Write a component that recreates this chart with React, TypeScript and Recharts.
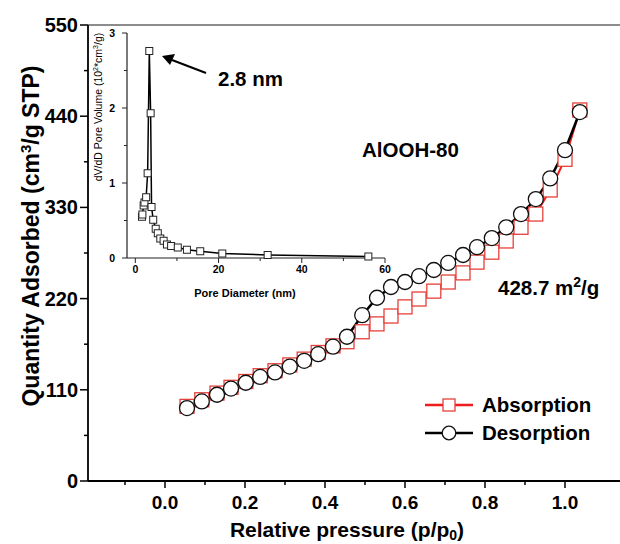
import { ComposedChart, Line, XAxis, YAxis, ReferenceLine } from 'recharts'

// N2 isotherm, main plot
const pressure = [0.055, 0.092, 0.13, 0.165, 0.202, 0.238, 0.275, 0.312, 0.348, 0.383, 0.42, 0.455, 0.493, 0.53, 0.565, 0.6, 0.635, 0.672, 0.708, 0.745, 0.78, 0.817, 0.853, 0.89, 0.927, 0.963, 1.0, 1.037]
const adsorbed = [90, 98, 106, 113, 120, 127, 133, 140, 147, 155, 163, 168, 180, 189.5, 199, 210, 219.5, 229, 240, 251, 264, 276, 289.5, 306, 322, 351, 388, 447.5]
const desorbed = [88, 96, 104, 111.5, 118.5, 125.5, 131, 138, 145, 153, 162, 174, 200, 221, 234, 240, 247, 254.5, 263, 272.6, 282, 293, 306, 322, 340, 365, 399, 445]
const mainXTicks = [-0.1, 0, 0.1, 0.2, 0.3, 0.4, 0.5, 0.6, 0.7, 0.8, 0.9, 1.0]
const mainYTicks = [0, 55, 110, 165, 220, 275, 330, 385, 440, 495, 550]

// pore size distribution, inset
const poreDiameter = [1.6, 1.7, 2.0, 2.2, 2.6, 2.96, 3.36, 3.68, 3.9, 4.3, 4.9, 5.4, 6.0, 6.8, 7.6, 8.6, 10.2, 12.4, 15.6, 20.9, 31.8, 56]
const poreVolume = [0.55, 0.58, 0.7, 0.74, 0.81, 1.13, 2.76, 1.93, 0.68, 0.51, 0.39, 0.33, 0.26, 0.23, 0.18, 0.16, 0.14, 0.11, 0.09, 0.06, 0.04, 0.02]
const insetXTicks = [0, 10, 20, 30, 40, 50, 60]
const insetYTicks = [0, 0.5, 1, 1.5, 2, 2.5, 3]

const isoData = pressure.map((p, i) => ({ p, ads: adsorbed[i], des: desorbed[i] }))
const poreData = poreDiameter.map((d, i) => ({ d, v: poreVolume[i] }))

const FONT = '"Liberation Sans", Arial, sans-serif'
const RED = '#ee1c1c'

const MainXTick = (props: any) => {
  const { x, y, payload } = props
  const major = Math.round(payload.value * 10) % 2 === 0
  return (
    <g>
      <line x1={x} x2={x} y1={y} y2={y + (major ? 7 : 4)} stroke="#000" strokeWidth={1.5} />
      {major && (
        <text x={x} y={y + 21} dy="0.35em" textAnchor="middle" fontSize={19} fontWeight="bold" fontFamily={FONT} fill="#000">
          {payload.value.toFixed(1)}
        </text>
      )}
    </g>
  )
}

const MainYTick = (props: any) => {
  const { x, y, payload } = props
  const major = payload.value % 110 === 0
  return (
    <g>
      <line x1={x - (major ? 8 : 4)} x2={x} y1={y} y2={y} stroke="#000" strokeWidth={1.5} />
      {major && (
        <text x={x - 10} y={y} dy="0.35em" textAnchor="end" fontSize={20} fontWeight="bold" fontFamily={FONT} fill="#000">
          {payload.value}
        </text>
      )}
    </g>
  )
}

const InsetXTick = (props: any) => {
  const { x, y, payload } = props
  const major = payload.value % 20 === 0
  return (
    <g>
      <line x1={x} x2={x} y1={y} y2={y + (major ? 5 : 3)} stroke="#222" strokeWidth={1} />
      {major && (
        <text x={x} y={y + 11} dy="0.35em" textAnchor="middle" fontSize={10.5} fontWeight="bold" fontFamily={FONT} fill="#000">
          {payload.value}
        </text>
      )}
    </g>
  )
}

const InsetYTick = (props: any) => {
  const { x, y, payload } = props
  const major = Number.isInteger(payload.value)
  return (
    <g>
      <line x1={x - (major ? 5 : 3)} x2={x} y1={y} y2={y} stroke="#222" strokeWidth={1} />
      {major && (
        <text x={x - 12} y={y} dy="0.35em" textAnchor="end" fontSize={10.5} fontWeight="bold" fontFamily={FONT} fill="#000">
          {payload.value}
        </text>
      )}
    </g>
  )
}

const squareDot = (props: any) => {
  const { cx, cy, index } = props
  return <rect key={`a${index}`} x={cx - 7} y={cy - 7} width={14} height={14} fill="#fff" stroke="#e6403a" strokeWidth={1.3} />
}

const circleDot = (props: any) => {
  const { cx, cy, index } = props
  return <circle key={`d${index}`} cx={cx} cy={cy} r={7.5} fill="#fff" stroke="#111" strokeWidth={1.3} />
}

const smallSquare = (props: any) => {
  const { cx, cy, index } = props
  return <rect key={`p${index}`} x={cx - 3.5} y={cy - 3.5} width={7} height={7} fill="#fff" stroke="#222" strokeWidth={1} />
}

export default function App() {
  return (
    <div style={{ position: 'absolute', left: 0, top: 0, width: 620, height: 544, overflow: 'hidden', background: '#fff' }}>
      <div style={{ position: 'absolute', left: 0, top: 0 }}>
        <ComposedChart width={620} height={544} data={isoData} margin={{ top: 25, right: 0, bottom: 0, left: 0 }}>
          <XAxis
            type="number"
            dataKey="p"
            domain={[-0.1925, 1.1375]}
            ticks={mainXTicks}
            interval={0}
            height={63}
            tickSize={0}
            tickMargin={0}
            tickLine={false}
            tick={<MainXTick />}
            axisLine={{ stroke: '#000', strokeWidth: 1.8 }}
            allowDataOverflow
          />
          <YAxis
            type="number"
            domain={[0, 550]}
            ticks={mainYTicks}
            interval={0}
            width={88}
            tickSize={0}
            tickMargin={0}
            tickLine={false}
            tick={<MainYTick />}
            axisLine={{ stroke: '#000', strokeWidth: 1.8 }}
            allowDataOverflow
          />
          <ReferenceLine y={550} stroke="#666" strokeWidth={1.5} />
          <Line dataKey="ads" stroke={RED} strokeWidth={2} dot={squareDot} isAnimationActive={false} />
          <Line dataKey="des" stroke="#000" strokeWidth={2.5} dot={circleDot} isAnimationActive={false} />
        </ComposedChart>
      </div>

      <div style={{ position: 'absolute', left: 0, top: 0 }}>
        <ComposedChart width={400} height={310} data={poreData} margin={{ top: 33, right: 15, bottom: 0, left: 0 }}>
          <XAxis
            type="number"
            dataKey="d"
            domain={[-2, 60]}
            ticks={insetXTicks}
            interval={0}
            height={52}
            tickSize={0}
            tickMargin={0}
            tickLine={false}
            tick={<InsetXTick />}
            axisLine={{ stroke: '#222', strokeWidth: 1.2 }}
          />
          <YAxis
            type="number"
            domain={[0, 3]}
            ticks={insetYTicks}
            interval={0}
            width={127}
            tickSize={0}
            tickMargin={0}
            tickLine={false}
            tick={<InsetYTick />}
            axisLine={{ stroke: '#222', strokeWidth: 1.2 }}
          />
          <Line dataKey="v" stroke="#000" strokeWidth={1.5} dot={smallSquare} isAnimationActive={false} />
        </ComposedChart>
      </div>

      <svg width={620} height={544} style={{ position: 'absolute', left: 0, top: 0, pointerEvents: 'none' }} fontFamily={FONT}>
        <text transform="translate(31,236) rotate(-90)" textAnchor="middle" dy="0.35em" fontSize={23} fontWeight="bold">
          Quantity Adsorbed (cm<tspan dy={-8} fontSize={15}>3</tspan>
          <tspan dy={8}>/g STP)</tspan>
        </text>
        <text x={347} y={537} textAnchor="middle" fontSize={21} fontWeight="bold">
          Relative pressure (p/p<tspan dy={3} fontSize={14}>0</tspan>
          <tspan dy={-3}>)</tspan>
        </text>

        <text transform="translate(98,107) rotate(-90)" textAnchor="middle" dy="0.35em" fontSize={10.5}>
          dV/dD Pore Volume (10<tspan dy={-4} fontSize={7}>2</tspan>
          <tspan dy={4}>*cm</tspan>
          <tspan dy={-4} fontSize={7}>3</tspan>
          <tspan dy={4}>/g)</tspan>
        </text>
        <text x={245} y={293} dy="0.35em" textAnchor="middle" fontSize={11} fontWeight="bold">
          Pore Diameter (nm)
        </text>

        <line x1={206} y1={73} x2={172} y2={60} stroke="#000" strokeWidth={2} />
        <polygon points="162,56 175,54 170,65" fill="#000" />
        <text x={218} y={79} dy="0.35em" fontSize={20.5} fontWeight="bold">2.8 nm</text>

        <text x={362} y={150} dy="0.35em" fontSize={20.5} fontWeight="bold">AlOOH-80</text>
        <text x={498} y={288} dy="0.35em" fontSize={20.5} fontWeight="bold">
          428.7 m<tspan dy={-8} fontSize={14}>2</tspan>
          <tspan dy={8}>/g</tspan>
        </text>

        <line x1={425} y1={405} x2={473} y2={405} stroke={RED} strokeWidth={2.5} />
        <rect x={443} y={399} width={12} height={12} fill="#fff" stroke="#e6403a" strokeWidth={1.3} />
        <text x={482} y={405} dy="0.35em" fontSize={20.5} fontWeight="bold">Absorption</text>
        <line x1={425} y1={433} x2={473} y2={433} stroke="#000" strokeWidth={2.5} />
        <circle cx={449} cy={433} r={6.8} fill="#fff" stroke="#111" strokeWidth={1.3} />
        <text x={482} y={433} dy="0.35em" fontSize={20.5} fontWeight="bold">Desorption</text>
      </svg>
    </div>
  )
}
